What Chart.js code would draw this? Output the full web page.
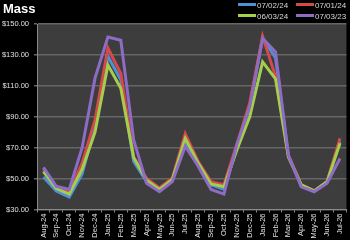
<!DOCTYPE html>
<html>
<head>
<meta charset="utf-8">
<script src="https://cdn.jsdelivr.net/npm/chart.js@4/dist/chart.umd.min.js"></script>
<style>
  html, body { margin: 0; padding: 0; background: #000; }
  #wrap { position: relative; width: 350px; height: 240px; background: #000; }
  #title { position: absolute; left: 3px; top: 1px; font: bold 13px "Liberation Sans", Arial, sans-serif; color: #fff; }
  .lg { position: absolute; font: 8px "Liberation Sans", Arial, sans-serif; color: #d8d8d8; line-height: 10px; white-space: nowrap; }
  .lg i { display: inline-block; width: 18px; height: 3px; vertical-align: middle; margin-right: 1px; position: relative; top: -1px; }
</style>
</head>
<body>
<div id="wrap">
  <canvas id="chart" width="350" height="240"></canvas>
  <div id="title">Mass</div>
  <div id="legend"></div>
</div>
<script>
(function(){
    'use strict';

    var months = ['Aug-24','Sep-24','Oct-24','Nov-24','Dec-24','Jan-25','Feb-25','Mar-25','Apr-25','May-25','Jun-25','Jul-25',
                  'Aug-25','Sep-25','Oct-25','Nov-25','Dec-25','Jan-26','Feb-26','Mar-26','Apr-26','May-26','Jun-26','Jul-26'];

    var seriesNames = ['07/02/24', '07/01/24', '06/03/24', '07/03/23'];

    var mass070224 = [51, 42, 38, 53, 84, 129, 114, 61, 48, 43, 49, 74, 60, 46, 43, 70, 97, 141, 128, 65, 45, 42, 48, 74];
    var mass070124 = [56, 44.5, 41.5, 60, 88, 134.5, 118, 64, 50, 44, 50.5, 79, 61, 48, 46, 72, 99, 142, 116, 65, 46, 42, 48, 76];
    var mass060324 = [54.5, 43.5, 40, 56, 80, 123.5, 108.5, 63.5, 49, 43, 49.5, 76, 60, 46.5, 44.7, 68.5, 90, 125.5, 114.5, 64, 46, 42, 48, 72.8];
    var mass070323 = [57.3, 45, 43, 70, 115, 141.5, 139.5, 75, 47, 41.5, 48, 71, 58, 43, 40, 72, 96.5, 140.7, 132, 65, 44.7, 41.5, 47, 63];

    var yTicks = [30, 50, 70, 90, 110, 130, 150];

    var colors = ['#4f8fd6', '#d44a4a', '#a3cf4c', '#8c6cc4'];
    var values = [mass070224, mass070124, mass060324, mass070323];

    // legend (two rows, two columns, top right)
    var legendPos = [[238, 1], [296, 1], [238, 12], [296, 12]];
    var legend = document.getElementById('legend');
    seriesNames.forEach(function(name, i){
        var d = document.createElement('div');
        d.className = 'lg';
        d.style.left = legendPos[i][0] + 'px';
        d.style.top = legendPos[i][1] + 'px';
        d.innerHTML = '<i style="background:' + colors[i] + '"></i>' + name;
        legend.appendChild(d);
    });

    var plotBg = {
        id: 'plotBg',
        beforeDraw: function(chart){
            var a = chart.chartArea, c = chart.ctx;
            c.save();
            c.fillStyle = '#3d3d3d';
            c.fillRect(a.left, a.top, a.right - a.left, a.bottom - a.top);
            c.restore();
        }
    };

    var datasets = seriesNames.map(function(name, i){
        return {
            label: name,
            data: values[i],
            borderColor: colors[i],
            backgroundColor: colors[i],
            borderWidth: 3,
            pointRadius: 0,
            tension: 0,
            fill: false,
            order: 3 - i   // last series drawn on top
        };
    });

    new Chart(document.getElementById('chart').getContext('2d'), {
        type: 'line',
        data: { labels: months, datasets: datasets },
        plugins: [plotBg],
        options: {
            responsive: false,
            animation: false,
            layout: { padding: { top: 24, right: 1, left: 0, bottom: 0 } },
            plugins: {
                legend: { display: false },
                title: { display: false },
                tooltip: { enabled: false }
            },
            scales: {
                x: {
                    offset: true,
                    grid: { offset: true, drawOnChartArea: false, color: '#8a8a8a', tickLength: 3 },
                    border: { color: '#8a8a8a', width: 1 },
                    ticks: {
                        color: '#e0e0e0',
                        font: { family: 'Liberation Sans', size: 7.5 },
                        minRotation: 90, maxRotation: 90,
                        autoSkip: false,
                        padding: 1
                    },
                    afterFit: function(s){ s.height = 30.5; }
                },
                y: {
                    min: 30, max: 150,
                    afterBuildTicks: function(s){ s.ticks = yTicks.map(function(v){ return { value: v }; }); },
                    grid: { color: '#666666', lineWidth: 1.5, tickLength: 3 },
                    border: { color: '#8a8a8a', width: 1 },
                    ticks: {
                        color: '#e0e0e0',
                        font: { family: 'Liberation Sans', size: 7.5 },
                        padding: 5,
                        callback: function(v){ return '$' + Number(v).toFixed(2); }
                    },
                    afterFit: function(s){ s.width = 37; }
                }
            }
        }
    });
})();
</script>
</body>
</html>
